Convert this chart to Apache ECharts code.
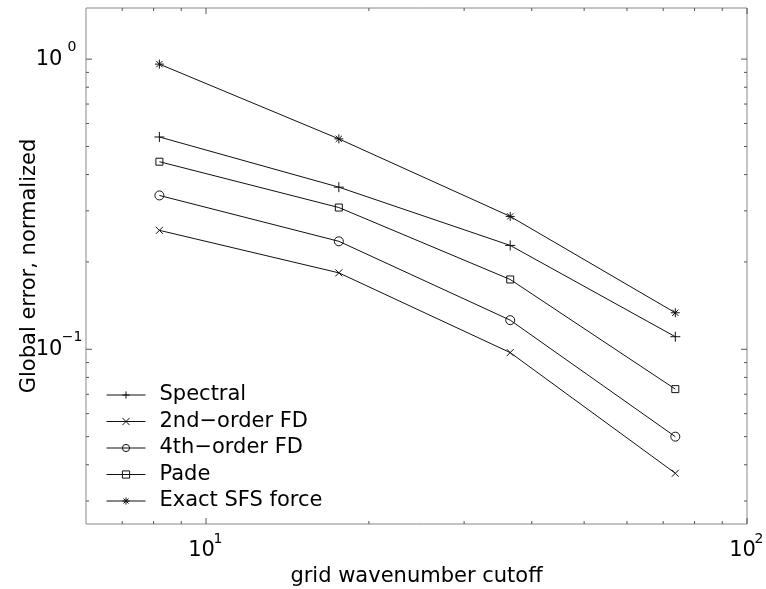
<!DOCTYPE html>
<html><head><meta charset="utf-8">
<script src="https://cdn.jsdelivr.net/npm/echarts@6/dist/echarts.min.js"></script>
<style>html,body{margin:0;padding:0;background:#fff}#c{width:766px;height:589px}</style>
</head><body><div id="c"></div>
<script>
const cutoffs = [8.2, 17.6, 36.5, 73.7];
const spectral = [0.539, 0.362, 0.228, 0.1105];
const fd2 = [0.257, 0.1834, 0.0974, 0.0374];
const fd4 = [0.339, 0.2356, 0.126, 0.050];
const pade = [0.443, 0.308, 0.174, 0.0729];
const exactSFS = [0.961, 0.531, 0.287, 0.1336];
const seriesNames = ['Spectral', '2nd\u2212order FD', '4th\u2212order FD', 'Pade', 'Exact SFS force'];
const xMajorTicks = [10, 100];
const xMinorTicks = [7, 8, 9, 20, 30, 40, 50, 60, 70, 80, 90];
const yMajorTicks = [0.1, 1];
const yMinorTicks = [0.03, 0.04, 0.05, 0.06, 0.07, 0.08, 0.09, 0.2, 0.3, 0.4, 0.5, 0.6, 0.7, 0.8, 0.9];
const X_MIN = 6, X_MAX = 100, Y_MIN = 0.025, Y_MAX = 1.5;

const FONT = 'DejaVu Sans';
const chart = echarts.init(document.getElementById('c'), null, {renderer: 'canvas'});

function powLabel(v) {
  const e = Math.log10(v);
  const r = Math.round(e);
  if (Math.abs(e - r) > 1e-6) return '';
  const exp = r < 0 ? '\u2212' + (-r) : String(r);
  return '{b|10}{s|' + exp + '}';
}

const TICK_COLOR = '#555';
function xTickItem(params, api) {
  const v = api.value(0);
  const len = api.value(2) ? 6 : 3;
  const p = api.coord([v, Y_MIN]);
  const q = api.coord([v, Y_MAX]);
  return {type: 'group', children: [
    {type: 'line', shape: {x1: p[0], y1: p[1], x2: p[0], y2: p[1] - len}, style: {stroke: TICK_COLOR, lineWidth: 1}},
    {type: 'line', shape: {x1: q[0], y1: q[1], x2: q[0], y2: q[1] + len}, style: {stroke: TICK_COLOR, lineWidth: 1}}
  ]};
}
function yTickItem(params, api) {
  const v = api.value(1);
  const len = api.value(2) ? 6 : 3;
  const p = api.coord([X_MIN, v]);
  const q = api.coord([X_MAX, v]);
  return {type: 'group', children: [
    {type: 'line', shape: {x1: p[0], y1: p[1], x2: p[0] + len, y2: p[1]}, style: {stroke: TICK_COLOR, lineWidth: 1}},
    {type: 'line', shape: {x1: q[0], y1: q[1], x2: q[0] - len, y2: q[1]}, style: {stroke: TICK_COLOR, lineWidth: 1}}
  ]};
}

const xTickData = xMajorTicks.map(v => [v, Y_MIN, 1]).concat(xMinorTicks.map(v => [v, Y_MIN, 0]));
const yTickData = yMajorTicks.map(v => [X_MIN, v, 1]).concat(yMinorTicks.map(v => [X_MIN, v, 0]));

const symbols = {
  plus: 'path://M5 0L5 10M0 5L10 5',
  cross: 'path://M0 0L10 10M0 10L10 0',
  star: 'path://M5 0L5 10M0 5L10 5M1.5 1.5L8.5 8.5M1.5 8.5L8.5 1.5'
};

function lineSeries(name, vals, symbol, size) {
  return {
    name: name, type: 'line', data: cutoffs.map((x, i) => [x, vals[i]]),
    symbol: symbol, symbolSize: size, showAllSymbol: true,
    lineStyle: {color: '#111', width: 1},
    itemStyle: {color: 'rgba(0,0,0,0)', borderColor: '#111', borderWidth: 1},
    emphasis: {disabled: true}, z: 3, animation: false, clip: false
  };
}

const richY = {
  b: {fontFamily: FONT, fontSize: 21, color: '#000', lineHeight: 30, verticalAlign: 'middle', width: 24, align: 'right'},
  s: {fontFamily: FONT, fontSize: 14, color: '#000', height: 6, lineHeight: 6, verticalAlign: 'top', width: 22, align: 'left'}
};
const richX = {
  b: {fontFamily: FONT, fontSize: 21, color: '#000', lineHeight: 30, verticalAlign: 'middle', width: 24, align: 'right'},
  s: {fontFamily: FONT, fontSize: 14, color: '#000', height: 6, lineHeight: 6, verticalAlign: 'top'}
};

const option = {
  backgroundColor: '#fff',
  animation: false,
  grid: {left: 86, right: 19, top: 8, bottom: 65, outerBoundsMode: 'none', containLabel: false,
         show: true, borderColor: '#888', borderWidth: 1, backgroundColor: 'transparent'},
  xAxis: {
    type: 'log', logBase: 10, min: X_MIN, max: X_MAX,
    name: 'grid wavenumber cutoff', nameLocation: 'middle', nameGap: 41, nameMoveOverlap: false,
    nameTextStyle: {fontFamily: FONT, fontSize: 21, color: '#000', lineHeight: 24},
    axisLine: {show: false}, axisTick: {show: false}, splitLine: {show: false}, minorTick: {show: false},
    axisLabel: {margin: 12, formatter: powLabel, color: '#000', fontFamily: FONT, rich: richX}
  },
  yAxis: {
    type: 'log', logBase: 10, min: Y_MIN, max: Y_MAX,
    name: 'Global error, normalized', nameLocation: 'middle', nameGap: 44, nameMoveOverlap: false,
    nameTextStyle: {fontFamily: FONT, fontSize: 21, color: '#000', lineHeight: 24},
    axisLine: {show: false}, axisTick: {show: false}, splitLine: {show: false}, minorTick: {show: false},
    axisLabel: {margin: 3, formatter: powLabel, color: '#000', fontFamily: FONT, rich: richY}
  },
  legend: {
    orient: 'vertical', left: 106, top: 384, padding: 0,
    itemWidth: 39, itemHeight: 9, itemGap: 4.5, selectedMode: false,
    itemStyle: {color: 'rgba(0,0,0,0)', borderColor: '#111', borderWidth: 1},
    lineStyle: {color: '#111', width: 1},
    textStyle: {fontFamily: FONT, fontSize: 21, color: '#000', lineHeight: 22, padding: [0, 0, 0, 9]},
    data: seriesNames
  },
  series: [
    lineSeries(seriesNames[0], spectral, symbols.plus, 10),
    lineSeries(seriesNames[1], fd2, symbols.cross, 7),
    lineSeries(seriesNames[2], fd4, 'circle', 9),
    lineSeries(seriesNames[3], pade, 'rect', 7),
    lineSeries(seriesNames[4], exactSFS, symbols.star, 9),
    {type: 'custom', silent: true, z: 1, clip: false, encode: {x: 0, y: 1}, data: xTickData, renderItem: xTickItem},
    {type: 'custom', silent: true, z: 1, clip: false, encode: {x: 0, y: 1}, data: yTickData, renderItem: yTickItem}
  ]
};
chart.setOption(option);
</script>
</body></html>
